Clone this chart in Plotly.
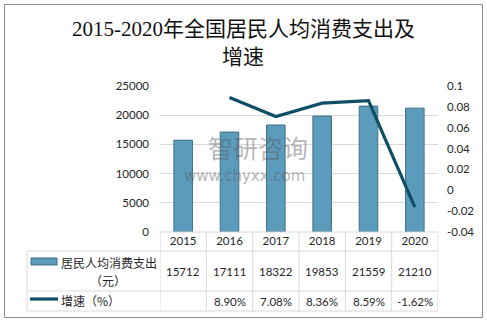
import plotly.graph_objects as go

# ---------------- data ----------------
years = ["2015", "2016", "2017", "2018", "2019", "2020"]
spending = [15712, 17111, 18322, 19853, 21559, 21210]
growth_years = ["2016", "2017", "2018", "2019", "2020"]
growth = [0.0890, 0.0708, 0.0836, 0.0859, -0.0162]
growth_labels = ["", "8.90%", "7.08%", "8.36%", "8.59%", "-1.62%"]
left_tickvals = [0, 5000, 10000, 15000, 20000, 25000]
left_ticktext = ["0", "5000", "10000", "15000", "20000", "25000"]
right_tickvals = [-0.04, -0.02, 0, 0.02, 0.04, 0.06, 0.08, 0.1]
right_ticktext = ["-0.04", "-0.02", "0", "0.02", "0.04", "0.06", "0.08", "0.1"]
title_line1 = "2015-2020年全国居民人均消费支出及"
title_line2 = "增速"
series1_name = "居民人均消费支出"
series1_unit = "（元）"
series2_name = "增速（%）"

# ---------------- geometry ----------------
W, H = 487, 322
L, R, T, B = 160, 438, 86, 232
PW, PH = R - L, B - T


def px(x):
    return (x - L) / PW


def py(y):
    return (B - y) / PH


BAR_COLOR = "#5B9CBC"
BAR_EDGE = "#3E6F88"
LINE_COLOR = "#0E4F66"
GRID = "#D9D9D9"
TXT = "#262626"
NUM_FONT = "Lato, Noto Sans CJK SC"
CJK_FONT = "Noto Sans CJK SC"
TITLE_FONT = "Liberation Serif, Noto Sans CJK SC"

fig = go.Figure()
fig.add_trace(go.Bar(
    x=years, y=spending, name=series1_name,
    marker=dict(color=BAR_COLOR, line=dict(color=BAR_EDGE, width=1)),
    yaxis="y",
))
fig.add_trace(go.Scatter(
    x=growth_years, y=growth, name=series2_name, mode="lines",
    line=dict(color=LINE_COLOR, width=3.2), yaxis="y2",
))

shapes = []
# outer border
shapes.append(dict(type="rect", xref="paper", yref="paper",
                   x0=px(4.5), x1=px(482.5), y0=py(4.5), y1=py(317.5),
                   line=dict(color="#8C8C8C", width=1), layer="below"))
# table horizontal lines
for yy, x0 in [(B, L), (251, 27), (291, 27), (311, 27)]:
    shapes.append(dict(type="line", xref="paper", yref="paper",
                       x0=px(x0), x1=px(R), y0=py(yy), y1=py(yy),
                       line=dict(color=GRID, width=1)))
# left outer vertical line of table
shapes.append(dict(type="line", xref="paper", yref="paper",
                   x0=px(27), x1=px(27), y0=py(251), y1=py(311),
                   line=dict(color=GRID, width=1)))
# column boundaries
for k in range(len(years) + 1):
    xb = k - 0.5
    shapes.append(dict(type="line", xref="x", yref="paper",
                       x0=xb, x1=xb, y0=py(B), y1=py(311),
                       line=dict(color=GRID, width=1)))
# legend keys
shapes.append(dict(type="rect", xref="paper", yref="paper",
                   x0=px(31), x1=px(57), y0=py(258), y1=py(265),
                   fillcolor=BAR_COLOR, line=dict(color=BAR_EDGE, width=1)))
shapes.append(dict(type="line", xref="paper", yref="paper",
                   x0=px(30), x1=px(58), y0=py(299), y1=py(299),
                   line=dict(color=LINE_COLOR, width=3.2)))

ann = []
# title
for txt, yy in [(title_line1, 29), (title_line2, 57)]:
    ann.append(dict(text=txt, xref="paper", yref="paper", x=px(243), y=py(yy),
                    showarrow=False, xanchor="center", yanchor="middle",
                    font=dict(family=TITLE_FONT, size=21, color="#111")))
# watermark
ann.append(dict(text="智研咨询", xref="paper", yref="paper", x=px(258), y=py(147),
                showarrow=False, xanchor="center", yanchor="middle",
                font=dict(family=CJK_FONT, size=25, color="rgba(90,90,90,0.45)")))
ann.append(dict(text="www.chyxx.com", xref="paper", yref="paper", x=px(244), y=py(176),
                showarrow=False, xanchor="center", yanchor="middle",
                font=dict(family="DejaVu Sans", size=15, color="rgba(90,90,90,0.45)")))
# table row labels
ann.append(dict(text=series1_name, xref="paper", yref="paper", x=px(59), y=py(262),
                showarrow=False, xanchor="left", yanchor="middle",
                font=dict(family=CJK_FONT, size=12, color=TXT)))
ann.append(dict(text=series1_unit, xref="paper", yref="paper", x=px(108), y=py(280),
                showarrow=False, xanchor="center", yanchor="middle",
                font=dict(family=CJK_FONT, size=12, color=TXT)))
ann.append(dict(text=series2_name, xref="paper", yref="paper", x=px(59), y=py(300),
                showarrow=False, xanchor="left", yanchor="middle",
                font=dict(family=CJK_FONT, size=12, color=TXT)))
# table values (category axis -> numeric index positions)
for i, v in enumerate(spending):
    ann.append(dict(text=str(v), xref="x", yref="paper", x=i, y=py(271),
                    showarrow=False, xanchor="center", yanchor="middle",
                    font=dict(family=NUM_FONT, size=11.5, color=TXT)))
for i, g in enumerate(growth_labels):
    if g:
        ann.append(dict(text=g, xref="x", yref="paper", x=i, y=py(301),
                        showarrow=False, xanchor="center", yanchor="middle",
                        font=dict(family=NUM_FONT, size=11.5, color=TXT)))

fig.update_layout(
    width=W, height=H, autosize=False,
    margin=dict(l=L, r=W - R, t=T, b=H - B, pad=0),
    paper_bgcolor="white", plot_bgcolor="white",
    showlegend=False, bargap=0.6,
    shapes=shapes, annotations=ann,
    xaxis=dict(type="category", range=[-0.5, 5.5], showgrid=False, showline=False,
               zeroline=False, ticks="", tickfont=dict(family=NUM_FONT, size=11.5, color=TXT)),
    yaxis=dict(range=[0, 25000], tickvals=left_tickvals, ticktext=left_ticktext,
               showgrid=True, gridcolor=GRID,
               gridwidth=1, zeroline=False, showline=False, ticks="",
               ticklabelstandoff=10, tickfont=dict(family=NUM_FONT, size=11.5, color=TXT)),
    yaxis2=dict(range=[-0.04, 0.1], tickvals=right_tickvals, ticktext=right_ticktext,
                overlaying="y", side="right", showgrid=False, zeroline=False,
                showline=False, ticks="", ticklabelstandoff=8,
                tickfont=dict(family=NUM_FONT, size=11.5, color=TXT)),
)

fig.write_html("out.html")
